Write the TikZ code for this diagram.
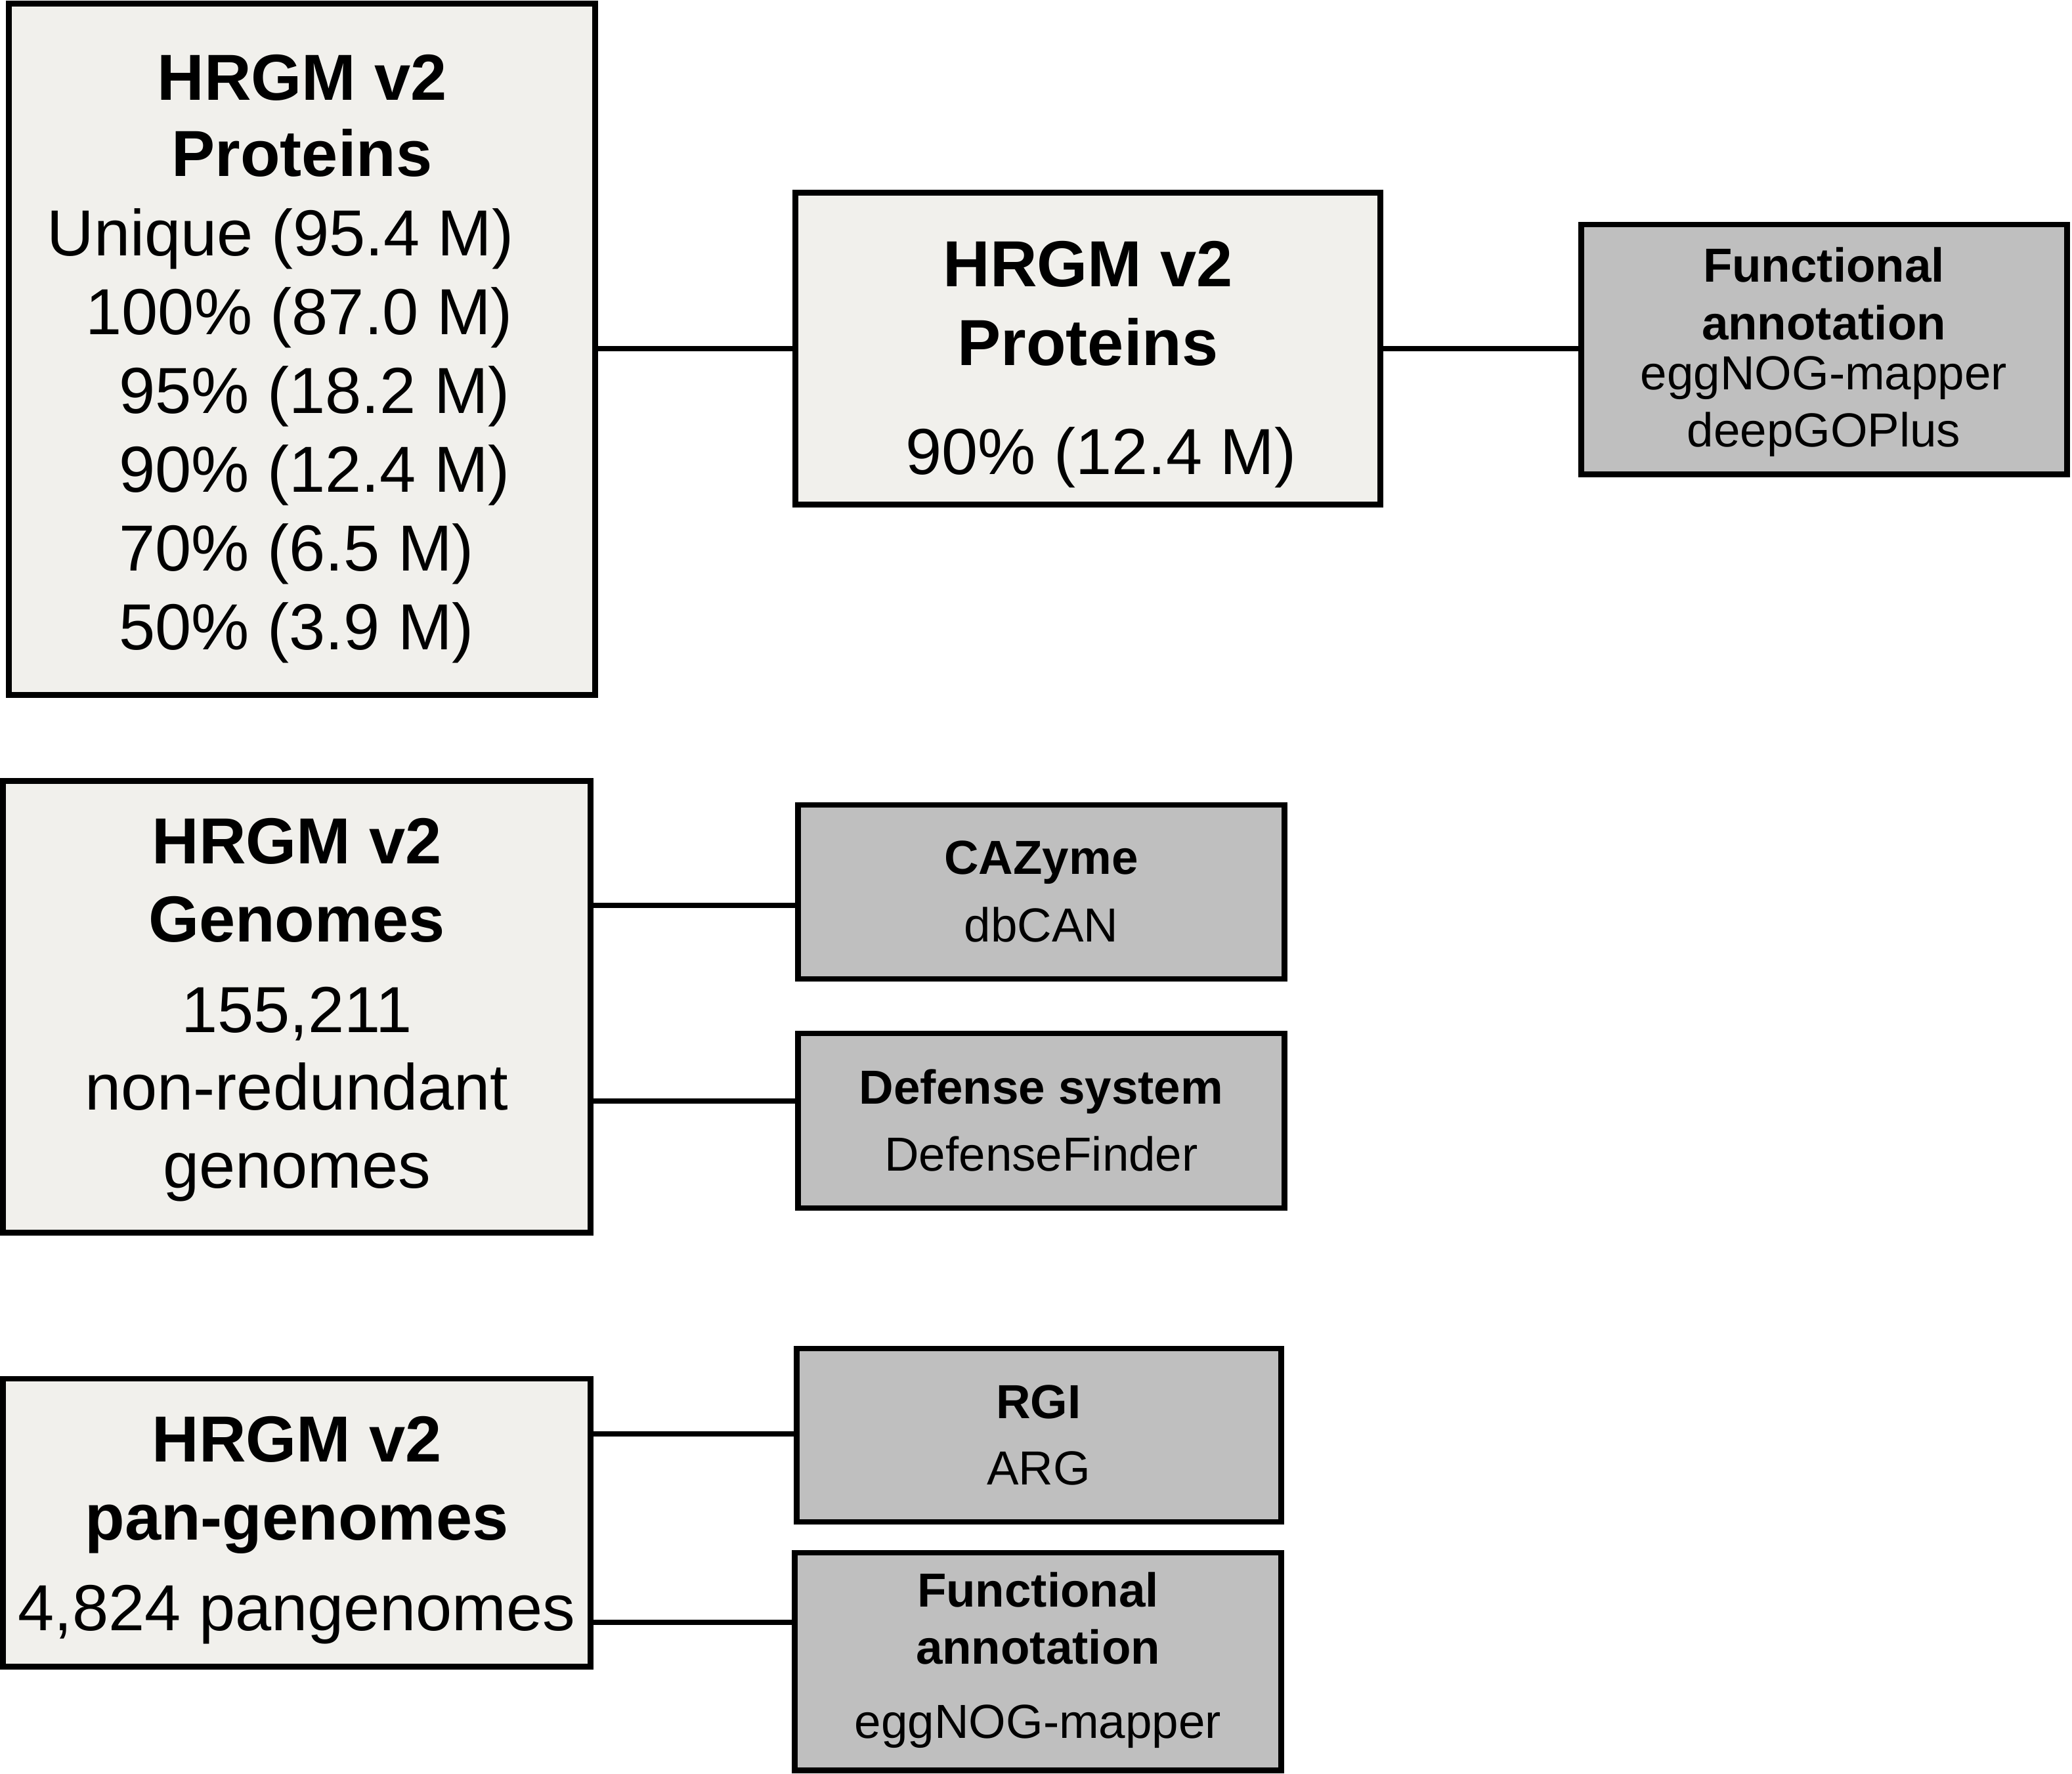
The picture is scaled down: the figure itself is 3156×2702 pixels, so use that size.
\documentclass[tikz,border=0pt]{standalone}
\usepackage{fontspec}
\setmainfont{Liberation Sans}
\definecolor{lightfill}{HTML}{F1F0EC}
\definecolor{greyfill}{HTML}{BFBFBF}
\tikzset{
  boxbase/.style={draw=black, line width=2.5pt, rectangle, inner sep=0pt},
  lbox/.style={boxbase, fill=lightfill},
  gbox/.style={boxbase, fill=greyfill},
  conn/.style={line width=2.3pt},
  big/.style={inner sep=0pt, anchor=base, font=\fontsize{28.2}{34}\selectfont},
  bigb/.style={big, font=\fontsize{28.2}{34}\selectfont\bfseries},
  small/.style={inner sep=0pt, anchor=base, font=\fontsize{20.7}{25}\selectfont},
  smallb/.style={small, font=\fontsize{20.7}{25}\selectfont\bfseries},
}
\begin{document}
\begin{tikzpicture}[x=0.01cm, y=-0.01cm]
\useasboundingbox (0,0) rectangle (3156,2702);
% boxes
\node[lbox, minimum width=8.92cm, minimum height=10.52cm] (b1) at (460,532) {};
\node[lbox, minimum width=8.90cm, minimum height=4.74cm] (b2) at (1657,531) {};
\node[gbox, minimum width=7.39cm, minimum height=3.80cm] (b3) at (2778.5,532) {};
\node[lbox, minimum width=8.94cm, minimum height=6.87cm] (b4) at (452,1533.5) {};
\node[gbox, minimum width=7.40cm, minimum height=2.65cm] (b5) at (1586,1358.5) {};
\node[gbox, minimum width=7.40cm, minimum height=2.66cm] (b6) at (1586,1707) {};
\node[lbox, minimum width=8.94cm, minimum height=4.38cm] (b7) at (452,2319) {};
\node[gbox, minimum width=7.37cm, minimum height=2.64cm] (b8) at (1582.5,2186) {};
\node[gbox, minimum width=7.40cm, minimum height=3.31cm] (b9) at (1581,2530.5) {};
% connector levels
\coordinate (y1) at (0,531);
\coordinate (y2) at (0,1379);
\coordinate (y3) at (0,1677);
\coordinate (y4) at (0,2184);
\coordinate (y5) at (0,2471);
\draw[conn] (b1.east |- y1) -- (b2.west |- y1);
\draw[conn] (b2.east |- y1) -- (b3.west |- y1);
\draw[conn] (b4.east |- y2) -- (b5.west |- y2);
\draw[conn] (b4.east |- y3) -- (b6.west |- y3);
\draw[conn] (b7.east |- y4) -- (b8.west |- y4);
\draw[conn] (b7.east |- y5) -- (b9.west |- y5);
% box 1 text
\node[bigb] (t1a) at (460,152) {HRGM v2};
\node[bigb] (t1b) at (460,268) {Proteins};
\node[big, anchor=base west] (t1c) at (71,389) {Unique (95.4 M)};
\node[big, anchor=base west] (t1d) at (130,509) {100\% (87.0 M)};
\node[big, anchor=base west] (t1e) at (181,629) {95\% (18.2 M)};
\node[big, anchor=base west] (t1f) at (181,749) {90\% (12.4 M)};
\node[big, anchor=base west] (t1g) at (181,869) {70\% (6.5 M)};
\node[big, anchor=base west] (t1h) at (181,989) {50\% (3.9 M)};
% box 2 text
\node[bigb] (t2a) at (1657,436) {HRGM v2};
\node[bigb] (t2b) at (1657,556) {Proteins};
\node[big] (t2c) at (1677,722) {90\% (12.4 M)};
% box 3 text
\node[smallb] (t3a) at (2778,429) {Functional};
\node[smallb] (t3b) at (2778,517) {annotation};
\node[small] (t3c) at (2778,593) {eggNOG-mapper};
\node[small] (t3d) at (2778,680) {deepGOPlus};
% box 4 text
\node[bigb] (t4a) at (452,1315) {HRGM v2};
\node[bigb] (t4b) at (452,1434) {Genomes};
\node[big] (t4c) at (452,1572) {155,211};
\node[big] (t4d) at (452,1690) {non-redundant};
\node[big] (t4e) at (452,1809) {genomes};
% box 5, 6 text
\node[smallb] (t5a) at (1586,1331) {CAZyme};
\node[small] (t5b) at (1586,1434) {dbCAN};
\node[smallb] (t6a) at (1586,1681) {Defense system};
\node[small] (t6b) at (1586,1783) {DefenseFinder};
% box 7 text
\node[bigb] (t7a) at (452,2226) {HRGM v2};
\node[bigb] (t7b) at (452,2345) {pan-genomes};
\node[big] (t7c) at (452,2483) {4,824 pangenomes};
% box 8, 9 text
\node[smallb] (t8a) at (1582,2160) {RGI};
\node[small] (t8b) at (1582,2261) {ARG};
\node[smallb] (t9a) at (1581,2447) {Functional};
\node[smallb] (t9b) at (1581,2534) {annotation};
\node[small] (t9c) at (1581,2647) {eggNOG-mapper};
\end{tikzpicture}
\end{document}
